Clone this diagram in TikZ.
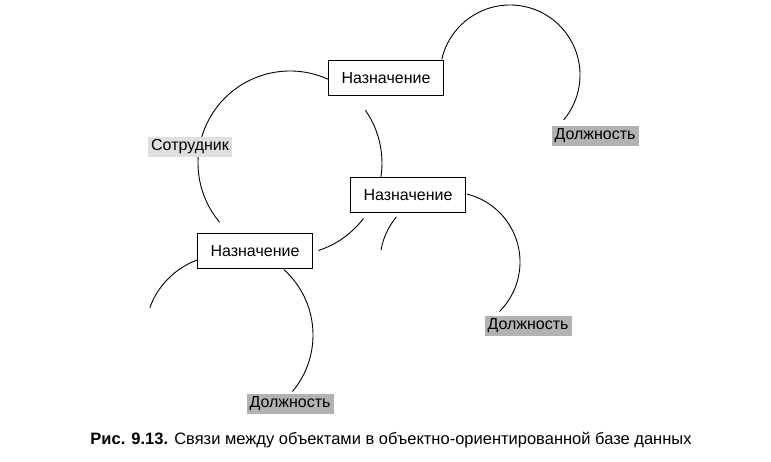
\documentclass[tikz,border=0pt]{standalone}
\usepackage{fontspec}
\setmainfont{Liberation Sans}
\begin{document}
\begin{tikzpicture}[x=1pt,y=-1pt,line width=0.9pt,
    box/.style={draw,fill=white,minimum width=115pt,minimum height=35pt,font=\fontsize{16}{18}\selectfont},
    emp/.style={fill=gray!25,inner sep=3pt,font=\fontsize{16}{18}\selectfont},
    post/.style={fill=gray!60,inner sep=3pt,font=\fontsize{16}{18}\selectfont}]
            \useasboundingbox (0,0) rectangle (771,462);

            % circles
            \draw (290,163) ++(-60:92) arc (-60:-220:92);
            \draw (290,163) ++(-35:92) arc (-35:12:92);
            \draw (290,163) ++(37:92) arc (37:72:92);
            \draw (510,75) ++(-167:70) arc (-167:40:70);
            \draw (450,262) ++(-76:70) arc (-76:45:70);
            \draw (450,262) ++(-140:70) arc (-140:-170:70);
            \draw (225,335) ++(-105:80) arc (-105:-160:80);
            \draw (225,335) ++(-48:88) arc (-48:40:88);

            \node[box] (nazn1) at (386,78) {Назначение};
            \node[box] (nazn2) at (408,195) {Назначение};
            \node[box] (nazn3) at (255,251) {Назначение};
            \node[emp] (sotr) at (190,147) {Сотрудник};
            \node[post] (dolzh1) at (595,136) {Должность};
            \node[post] (dolzh2) at (528,326) {Должность};
            \node[post] (dolzh3) at (290,404) {Должность};

            \node[font=\fontsize{16.5}{18}\selectfont] (caption) at (391,440) {\textbf{Рис. 9.13.} Связи между объектами в объектно-ориентированной базе данных};
        \end{tikzpicture}
\end{document}
